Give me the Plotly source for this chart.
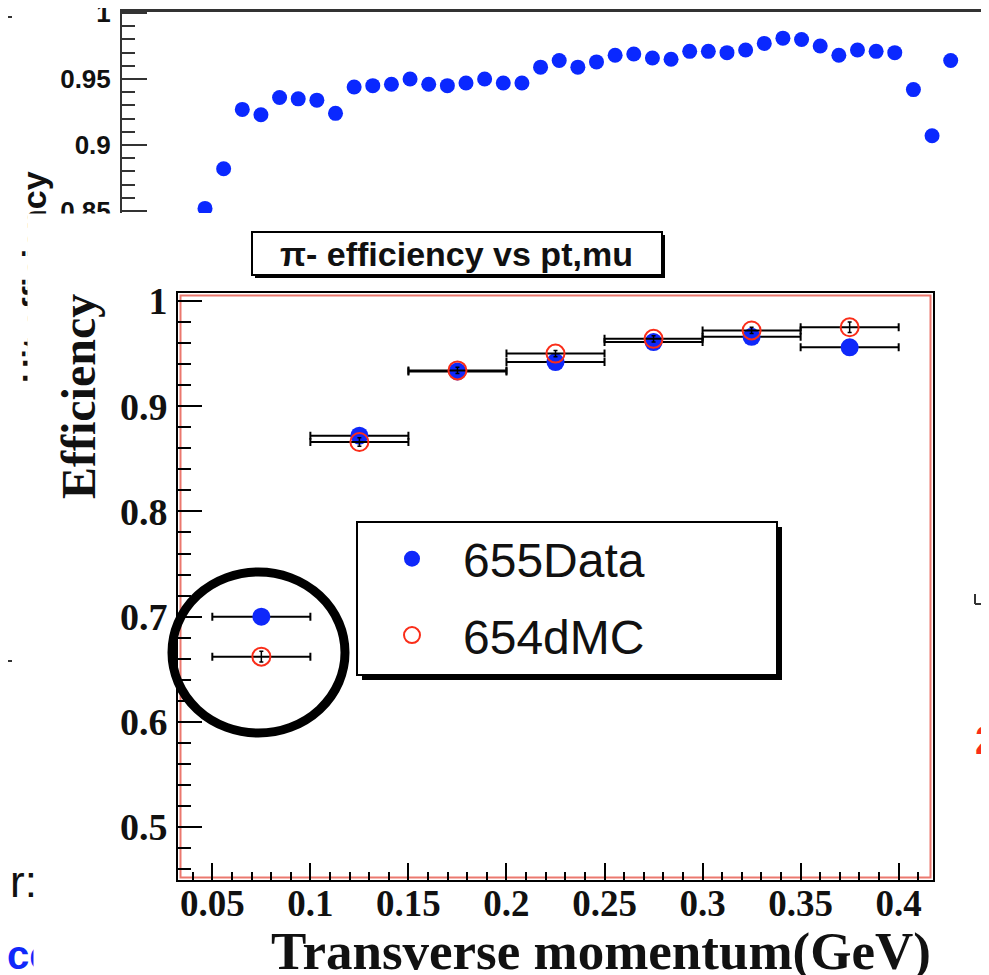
import plotly.graph_objects as go

# ---------------- inset chart data: pi- efficiency vs pt ----------------
pt_center = [0.075, 0.125, 0.175, 0.225, 0.275, 0.325, 0.375]
pt_halfwidth = [0.025, 0.025, 0.025, 0.025, 0.025, 0.025, 0.025]
eff_data = [0.700, 0.872, 0.933, 0.942, 0.961, 0.966, 0.956]
eff_mc = [0.662, 0.866, 0.934, 0.950, 0.964, 0.972, 0.975]
err_data = [0.004, 0.004, 0.003, 0.003, 0.003, 0.003, 0.004]
err_mc = [0.005, 0.004, 0.003, 0.003, 0.003, 0.003, 0.005]
series_names = ["655Data", "654dMC"]
chart_title = "π- efficiency vs pt,mu"
x_title = "Transverse momentum(GeV)"
y_title = "Efficiency"

# ---------------- background (partly hidden) hit-efficiency plot ----------------
bg_bin = [1, 2, 3, 4, 5, 6, 7, 8, 9, 10, 11, 12, 13, 14, 15, 16, 17, 18, 19, 20,
          21, 22, 23, 24, 25, 26, 27, 28, 29, 30, 31, 32, 33, 34, 35, 36, 37, 38,
          39, 40, 41]
bg_eff = [0.852, 0.882, 0.927, 0.923, 0.936, 0.935, 0.934, 0.924, 0.944, 0.945,
          0.946, 0.950, 0.946, 0.945, 0.947, 0.950, 0.947, 0.947, 0.959, 0.964,
          0.959, 0.963, 0.968, 0.969, 0.966, 0.965, 0.971, 0.971, 0.970, 0.972,
          0.977, 0.981, 0.980, 0.975, 0.968, 0.972, 0.971, 0.970, 0.942, 0.907,
          0.964]
bg_title = "Hit efficiency"

# the page body has an 8px margin, so the figure is drawn 8px in from the corner
OFF = 8
W, H = 989 - OFF, 975 - OFF


def px(x):
    return (x - OFF) / W


def py(y):
    return 1 - (y - OFF) / H


SERIF = "Liberation Serif"
SANS = "Liberation Sans"
BLUE = "rgb(15,40,250)"
RED = "rgb(250,45,25)"

fig = go.Figure()

# background plot markers
fig.add_trace(go.Scatter(
    x=bg_bin, y=bg_eff, xaxis="x2", yaxis="y2", mode="markers",
    marker=dict(size=15, color="rgb(10,40,255)"), showlegend=False,
    hoverinfo="skip"))

# inset data
fig.add_trace(go.Scatter(
    x=pt_center, y=eff_data, mode="markers", name=series_names[0],
    legendgroup="g1",
    marker=dict(size=18, color=BLUE, symbol="circle"),
    error_x=dict(type="data", array=pt_halfwidth, color="black", thickness=2, width=4),
    error_y=dict(type="data", array=err_data, color="black", thickness=1.5, width=2)))
fig.add_trace(go.Scatter(
    x=pt_center, y=eff_mc, mode="markers", name=series_names[1],
    legendgroup="g2",
    marker=dict(size=18, color=RED, symbol="circle-open", line=dict(width=2, color=RED)),
    error_x=dict(type="data", array=pt_halfwidth, color="black", thickness=2, width=4),
    error_y=dict(type="data", array=err_mc, color="black", thickness=1.5, width=2)))


def rect(x0, y0, x1, y1, **kw):
    d = dict(type="rect", xref="paper", yref="paper",
             x0=px(x0), x1=px(x1), y0=py(y1), y1=py(y0))
    d.update(kw)
    return d


def line(x0, y0, x1, y1, color="#333", width=2):
    return dict(type="line", xref="paper", yref="paper",
                x0=px(x0), x1=px(x1), y0=py(y0), y1=py(y1),
                line=dict(color=color, width=width))


shapes = [
    # inner red frame line of the inset
    rect(180.5, 295.5, 930.5, 877.5, layer="below",
         line=dict(color="rgb(235,120,110)", width=2)),
    # title box (shadow + box)
    rect(255, 235, 665, 278, layer="below", fillcolor="black", line=dict(width=0)),
    rect(252, 232, 662, 275, layer="below", fillcolor="white",
         line=dict(color="black", width=2)),
    # legend box (shadow + box)
    rect(362, 527, 782, 680, layer="below", fillcolor="black", line=dict(width=0)),
    rect(357, 522, 777, 675, layer="below", fillcolor="white",
         line=dict(color="black", width=2)),
    # highlight ellipse around the lowest-pt bin
    dict(type="circle", xref="paper", yref="paper", layer="above",
         x0=px(172), x1=px(345), y0=py(733), y1=py(572),
         line=dict(color="black", width=9)),
    # slide fragments on the edges
    line(0, 17, 12, 17),
    line(0, 661, 12, 661),
    line(975, 604, 989, 604),
    line(975, 604, 975, 594),
]
fig.update_layout(shapes=shapes)


def ann(text, x, y, size, family=SANS, color="#111", xanchor="center",
        yanchor="middle", **kw):
    d = dict(text=text, x=px(x), y=py(y), xref="paper", yref="paper",
             xanchor=xanchor, yanchor=yanchor, showarrow=False,
             font=dict(family=family, size=size, color=color))
    d.update(kw)
    return d


def cover(x0, y0, x1, y1):
    return dict(text=" ", x=px(x0), y=py(y0), xref="paper", yref="paper",
                xanchor="left", yanchor="top", width=x1 - x0, height=y1 - y0,
                bgcolor="white", borderpad=0, showarrow=False)


annotations = [
    ann("<b>" + chart_title + "</b>", 456, 254, 34),
    ann("<b>" + y_title + "</b>", 78, 397, 48, family=SERIF, textangle=-90),
    ann("<b>" + x_title + "</b>", 601, 951, 53, family=SERIF),
    # background fragments
    ann("<b>" + bg_title + "</b>", 34, 277, 34, textangle=-90),
    ann("r:", 8, 881, 44, xanchor="left"),
    ann("<b>ce</b>", 5, 955, 40, color=BLUE, xanchor="left"),
    ann("<b>2</b>", 973, 740, 40, color=RED, xanchor="left"),
    # white covers (the inset picture lies on top of the slide)
    cover(27, 213, 54, 463),
    cover(54, 213, 120, 235),
    cover(33, 925, 70, 975),
]
fig.update_layout(annotations=annotations)

fig.update_layout(
    width=W, height=H, autosize=False,
    margin=dict(l=0, r=0, t=0, b=0, pad=0),
    paper_bgcolor="white", plot_bgcolor="rgba(0,0,0,0)",
    showlegend=True,
    legend=dict(x=px(361), y=py(521), xanchor="left", yanchor="top",
                bgcolor="rgba(0,0,0,0)", borderwidth=0,
                font=dict(family=SANS, size=48, color="#111"),
                tracegroupgap=11, itemwidth=92),
    xaxis=dict(domain=[px(178), px(933)], range=[0.0325, 0.4175], automargin=False,
               showline=True, linecolor="black", linewidth=2, mirror=True,
               showgrid=False, zeroline=False,
               ticks="inside", ticklen=17, tickwidth=2, tickcolor="black",
               tick0=0, dtick=0.05, ticklabelstandoff=-10,
               minor=dict(dtick=0.01, ticklen=8, tickwidth=2, tickcolor="black", ticks="inside"),
               tickfont=dict(family=SERIF, size=37, color="#111", weight="bold")),
    yaxis=dict(domain=[py(880), py(293)], range=[0.4497, 1.0076], automargin=False,
               showline=True, linecolor="black", linewidth=2, mirror=True,
               showgrid=False, zeroline=False,
               ticks="inside", ticklen=24, tickwidth=2, tickcolor="black",
               tick0=0, dtick=0.1, ticklabelstandoff=1,
               minor=dict(dtick=0.02, ticklen=13, tickwidth=2, tickcolor="black", ticks="inside"),
               tickfont=dict(family=SERIF, size=38, color="#111", weight="bold")),
    xaxis2=dict(domain=[px(122), 1.0], range=[-3.453, 43.055], anchor="y2", side="top",
                automargin=False,
                showline=True, linecolor="#333", linewidth=3, showgrid=False,
                zeroline=False, showticklabels=False, ticks=""),
    yaxis2=dict(domain=[py(213), py(12)], range=[0.8485, 1.0008], anchor="x2",
                automargin=False, ticklabeloverflow="allow",
                showline=True, linecolor="#333", linewidth=2, showgrid=False,
                zeroline=False, ticks="inside", ticklen=25, tickwidth=2, tickcolor="#333",
                tick0=0, dtick=0.05, ticklabelstandoff=4,
                minor=dict(dtick=0.01, ticklen=13, tickwidth=2, tickcolor="#333", ticks="inside"),
                tickfont=dict(family=SANS, size=26, color="#111", weight="bold")),
)

fig.write_html("out.html")
